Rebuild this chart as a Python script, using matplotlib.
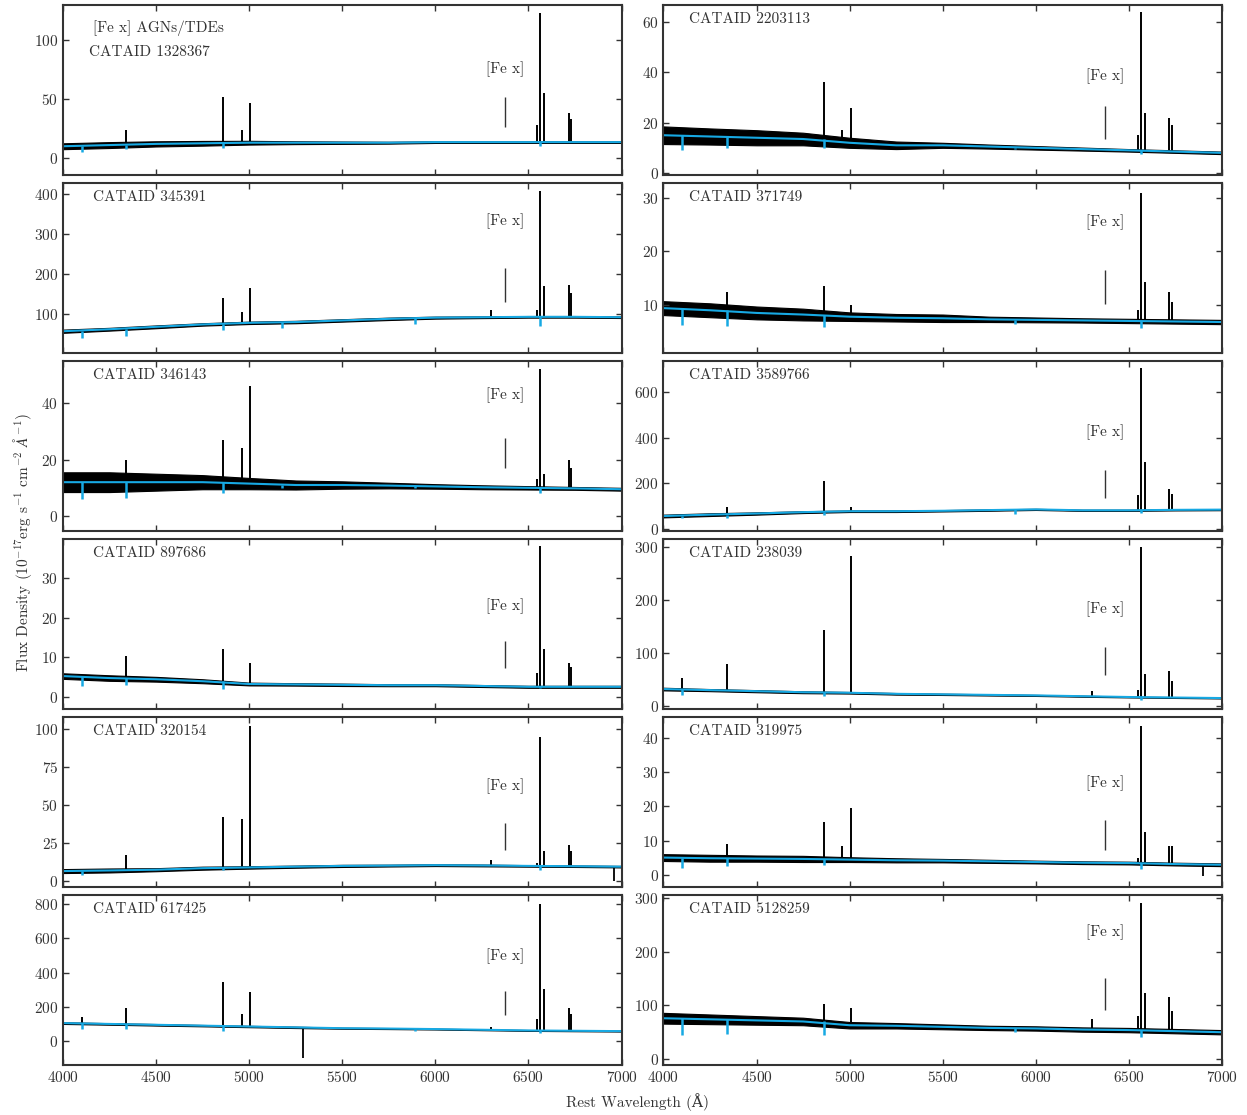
import numpy as np
import matplotlib.pyplot as plt

plt.rcParams['font.family'] = ['cmr10', 'DejaVu Serif']
plt.rcParams['mathtext.fontset'] = 'cm'
plt.rcParams['axes.formatter.use_mathtext'] = True

# panel order: row by row, left then right
CATAIDS = ['1328367', '2203113', '345391', '371749', '346143', '3589766',
           '897686', '238039', '320154', '319975', '617425', '5128259']

# continuum every 250 A
WAVE = np.array([4000, 4250, 4500, 4750, 5000, 5250, 5500,
                 5750, 6000, 6250, 6500, 6750, 7000])

CONT = [
    [10, 11, 12, 12.5, 13, 13, 13, 13, 13.5, 13.5, 13.5, 13.5, 13.5],
    [15, 14.5, 14, 13.5, 12, 11, 11, 10.5, 10, 9.5, 9, 8.5, 8],
    [57, 62, 68, 74, 78, 80, 84, 88, 91, 92, 93, 93, 92],
    [9.4, 9, 8.5, 8.2, 7.8, 7.6, 7.5, 7.3, 7.2, 7.1, 7.0, 6.9, 6.8],
    [12, 12, 12, 12, 11.5, 11, 11, 10.8, 10.5, 10.2, 10, 9.8, 9.5],
    [57, 63, 68, 74, 78, 78, 80, 83, 86, 82, 82, 84, 85],
    [5.3, 4.8, 4.5, 4, 3.3, 3.2, 3.1, 3, 3, 2.8, 2.6, 2.6, 2.6],
    [32, 30, 28, 26, 25, 23, 22, 21, 20, 18.5, 17, 16, 15],
    [6.6, 7, 7.5, 8.5, 9, 9.5, 10, 10.2, 10.5, 10.3, 10, 9.8, 9.5],
    [5.1, 4.9, 4.8, 4.7, 4.5, 4.3, 4.2, 4, 3.8, 3.6, 3.5, 3.2, 3.0],
    [105, 100, 95, 90, 85, 80, 75, 73, 70, 66, 62, 60, 58],
    [76, 74, 72, 70, 63, 62, 60, 58, 57, 55, 54, 52, 50],
]

# half width of the dense noisy band around the continuum
NOISE = [
    [2.5, 2.5, 2.2, 2, 1.6, 1.2, 1, 0.8, 0.7, 0.7, 0.7, 0.7, 0.7],
    [3.5, 3.2, 3, 2.5, 2, 1.5, 1, 0.8, 0.7, 0.6, 0.5, 0.5, 0.5],
    [4, 3.5, 3.5, 3, 3, 3, 3, 3, 2.5, 2.2, 2, 2, 2],
    [1.3, 1.3, 1.2, 1.1, 0.8, 0.7, 0.7, 0.5, 0.45, 0.4, 0.4, 0.4, 0.4],
    [3.5, 3.5, 3, 2.5, 2, 1.6, 1.3, 1, 0.8, 0.7, 0.6, 0.5, 0.5],
    [6, 6, 5, 4, 3.5, 3.5, 3, 3, 2.5, 2.5, 2.5, 2.5, 2.5],
    [0.7, 0.7, 0.6, 0.5, 0.35, 0.3, 0.3, 0.25, 0.25, 0.25, 0.25, 0.25, 0.25],
    [2.5, 2, 2, 1.8, 1.5, 1.5, 1.2, 1.2, 1, 1, 0.8, 0.8, 0.8],
    [1.3, 1.3, 1, 1, 0.8, 0.7, 0.7, 0.6, 0.6, 0.6, 0.5, 0.5, 0.5],
    [1, 1, 0.9, 0.9, 0.7, 0.6, 0.5, 0.45, 0.4, 0.4, 0.4, 0.4, 0.4],
    [5, 4.5, 4.5, 4, 4, 4, 3, 3, 2.5, 2.5, 2.5, 2.5, 2.5],
    [10, 9, 8, 7, 6, 5, 4.5, 4, 4, 4, 4, 4, 4],
]

# emission lines: Hd, Hg, Hb, [OIII]x2, [OI], [NII], Ha, [NII], [SII]x2
LINE_WAVE = [4102, 4340, 4861, 4959, 5007, 6300, 6548, 6563, 6584, 6716, 6731]
PEAKS = [
    [0, 24, 52, 24, 47, 0, 28, 123, 55, 38, 33],
    [0, 0, 36, 17, 26, 0, 15, 64, 24, 22, 19],
    [0, 0, 140, 105, 165, 110, 110, 408, 170, 172, 153],
    [0, 12.5, 13.5, 0, 10, 0, 9, 31, 14.3, 12.5, 10.5],
    [0, 20, 27, 24, 46, 0, 13, 52, 15, 20, 17],
    [0, 95, 210, 0, 95, 0, 150, 705, 295, 175, 155],
    [0, 10.3, 12, 0, 8.7, 0, 6, 38, 12, 8.7, 7.5],
    [53, 79, 143, 0, 283, 28, 30, 300, 60, 66, 48],
    [0, 17, 42, 41, 102, 14, 12, 95, 20, 24, 20],
    [0, 9, 15.5, 8.5, 19.6, 0, 5, 43.5, 12.5, 8.5, 8.5],
    [140, 192, 343, 160, 287, 80, 130, 800, 305, 192, 160],
    [0, 0, 102, 0, 95, 75, 80, 290, 123, 115, 90],
]

# absorption dips of the stellar model (minimum flux)
nan = np.nan
DIP_WAVE = [4102, 4340, 4861, 5175, 5890, 6563]
DIPS = [
    [5, 7.6, 8.5, nan, nan, 10],
    [9, 10, 10, nan, 9.5, 7.5],
    [40, 45, 60, 65, 75, 70],
    [6.3, 6, 5.8, nan, 6.5, 5.7],
    [6, 6.5, 8, 10, 10, 8],
    [48, 50, 62, nan, 68, 70],
    [2.8, 3, 2, nan, nan, 2.2],
    [20, nan, 18, nan, nan, 12],
    [4, nan, 7, nan, nan, 7],
    [2, 2.5, 2.8, nan, nan, 1.8],
    [70, 70, 60, nan, 60, 45],
    [45, 47, 45, nan, 50, 42],
]

# bad pixels going downward
BAD_WAVE = [nan, nan, nan, nan, nan, nan, nan, nan, 6960, 6900, 5290, nan]
BAD_FLUX = [nan, nan, nan, nan, nan, nan, nan, nan, 0, -0.3, -100, nan]

# axis set-up and [Fe x] marker positions
YLIMS = [(-14.4, 129.7), (-0.8, 66.7), (2.5, 427.5), (1.0, 32.8),
         (-5.3, 54.9), (-8.8, 736), (-3.0, 39.8), (-5.7, 315),
         (-3.9, 107.9), (-3.5, 46.1), (-140, 852.6), (-11, 305)]
YTICKS = [[0, 50, 100], [0, 20, 40, 60], [100, 200, 300, 400], [10, 20, 30],
          [0, 20, 40], [0, 200, 400, 600], [0, 10, 20, 30], [0, 100, 200, 300],
          [0, 25, 50, 75, 100], [0, 10, 20, 30, 40], [0, 200, 400, 600, 800],
          [0, 100, 200, 300]]
FE_LO = [26, 13.5, 130, 10.2, 17, 136, 7.3, 58.5, 20.4, 7.3, 152, 91]
FE_HI = [52, 26.6, 215, 16.5, 27.6, 258, 14.1, 111, 38.2, 16.1, 292, 151]
FE_TXT = [75, 38.5, 332, 25.5, 42.8, 425, 22.9, 183, 62.5, 26.9, 496, 236]

CYAN = '#17a9e3'
GREY = '#333333'

fig = plt.figure(figsize=(12.47, 11.15), dpi=100)
gs = fig.add_gridspec(6, 2, left=0.0505, right=0.980, top=0.9955,
                      bottom=0.0448, hspace=0.047, wspace=0.075)


def base_at(cont, w):
    return cont[np.abs(WAVE - w).argmin()]


for i in range(12):
    row, col = divmod(i, 2)
    ax = fig.add_subplot(gs[row, col])
    cont = np.array(CONT[i], dtype=float)
    noise = np.array(NOISE[i], dtype=float)

    # black spectrum: noisy band + emission lines
    ax.fill_between(WAVE, cont - noise, cont + noise, color='k', lw=0.8)
    for w, p in zip(LINE_WAVE, PEAKS[i]):
        b = base_at(cont, w)
        if p > b:
            ax.vlines(w, b, p, color='k', lw=1.4)
    if not np.isnan(BAD_WAVE[i]):
        ax.vlines(BAD_WAVE[i], BAD_FLUX[i], base_at(cont, BAD_WAVE[i]),
                  color='k', lw=1.3)

    # cyan model
    ax.plot(WAVE, cont, color=CYAN, lw=1.5)
    for w, d in zip(DIP_WAVE, DIPS[i]):
        if not np.isnan(d):
            ax.vlines(w, d, base_at(cont, w), color=CYAN, lw=1.8)

    # [Fe x] marker
    ax.vlines(6374, FE_LO[i], FE_HI[i], color=GREY, lw=1.0)
    ax.text(6374, FE_TXT[i], '[Fe x]', ha='center', va='center',
            fontsize=11, color=GREY)

    if i == 0:
        ax.text(0.054, 0.865, '[Fe x] AGNs/TDEs', transform=ax.transAxes,
                ha='left', va='center', fontsize=11, color=GREY)
        ax.text(0.046, 0.72, 'CATAID ' + CATAIDS[i], transform=ax.transAxes,
                ha='left', va='center', fontsize=11, color=GREY)
    else:
        x0 = 0.054 if col == 0 else 0.045
        ax.text(x0, 0.915, 'CATAID ' + CATAIDS[i], transform=ax.transAxes,
                ha='left', va='center', fontsize=11, color=GREY)

    ax.set_xlim(4000, 7000)
    ax.set_ylim(*YLIMS[i])
    ax.set_xticks([4000, 4500, 5000, 5500, 6000, 6500, 7000])
    ax.set_yticks(YTICKS[i])
    ax.tick_params(direction='in', top=True, right=True, length=4, width=1,
                   labelsize=11, colors=GREY)
    if row < 5:
        ax.tick_params(labelbottom=False)
    for s in ax.spines.values():
        s.set_linewidth(1.5)
        s.set_color(GREY)

fig.text(0.511, 0.012, 'Rest Wavelength (Å)', ha='center', va='center',
         fontsize=11, color=GREY)
fig.text(0.018, 0.513,
         r'Flux Density ($10^{-17}$erg s$^{-1}$ cm$^{-2}$ $\AA^{-1}$)',
         rotation=90, ha='center', va='center', fontsize=11, color=GREY)

fig.savefig('out.png', dpi=100)
